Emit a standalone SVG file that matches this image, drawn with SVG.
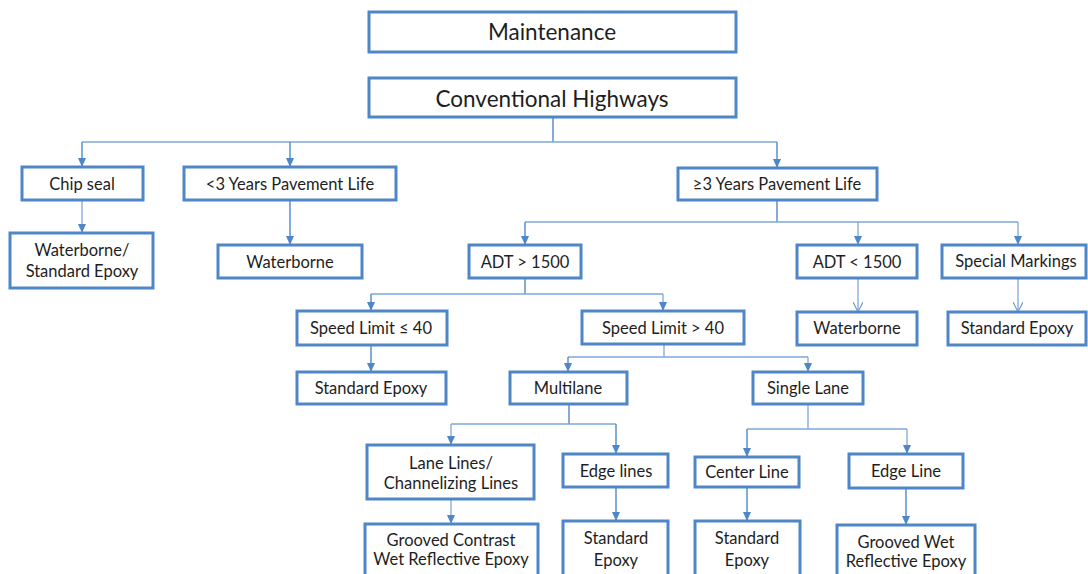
<svg xmlns="http://www.w3.org/2000/svg" width="1088" height="574" viewBox="0 0 1088 574">
<style>
.box{fill:#fff;stroke:#4f86c8;stroke-width:3}
.t{font-family:"Lato","Liberation Sans",sans-serif;fill:#1e1e1e;text-anchor:middle;dominant-baseline:central}
.big{font-size:22.5px}
.n{font-size:16.5px}
.c{fill:none;stroke:#5b8fcf;stroke-width:1.5}
.cl{fill:none;stroke:#7ea7d8;stroke-width:1.3}
</style>
<defs>
<marker id="a" markerWidth="10" markerHeight="8" refX="9" refY="4" orient="auto" markerUnits="userSpaceOnUse">
<path d="M0,0 L9,4 L0,8 z" fill="#4f86c8"/>
</marker>
<marker id="o" markerWidth="12" markerHeight="10" refX="10" refY="5" orient="auto" markerUnits="userSpaceOnUse">
<path d="M0,0 L10,5 L0,10" fill="none" stroke="#6d9ad2" stroke-width="1.2"/>
</marker>
</defs>
<rect width="1088" height="574" fill="#fff"/>
<g id="connectors">
<path class="c" d="M553,117 V142"/>
<path class="cl" d="M82,142 H777"/>
<path class="c" d="M82,142 V167" marker-end="url(#a)"/>
<path class="c" d="M290,142 V167" marker-end="url(#a)"/>
<path class="c" d="M777,142 V168" marker-end="url(#a)"/>
<path class="cl" d="M82,200 V233" marker-end="url(#a)"/>
<path class="c" d="M290,200 V245" marker-end="url(#a)"/>
<path class="c" d="M777,200 V222"/>
<path class="cl" d="M525,222 H1018"/>
<path class="c" d="M525,222 V245" marker-end="url(#a)"/>
<path class="cl" d="M858,222 V245" marker-end="url(#a)"/>
<path class="cl" d="M1018,222 V245" marker-end="url(#a)"/>
<path class="cl" d="M858,278 V312" marker-end="url(#o)"/>
<path class="cl" d="M1018,278 V312" marker-end="url(#o)"/>
<path class="c" d="M525,278 V294"/>
<path class="cl" d="M371,294 H663"/>
<path class="c" d="M371,294 V311" marker-end="url(#a)"/>
<path class="cl" d="M663,294 V311" marker-end="url(#a)"/>
<path class="c" d="M371,345 V372" marker-end="url(#a)"/>
<path class="cl" d="M664,344 V357"/>
<path class="cl" d="M568,357 H808"/>
<path class="c" d="M568,357 V372" marker-end="url(#a)"/>
<path class="cl" d="M808,357 V372" marker-end="url(#a)"/>
<path class="c" d="M569,404 V424"/>
<path class="cl" d="M451,424 H616"/>
<path class="cl" d="M451,424 V445" marker-end="url(#a)"/>
<path class="c" d="M616,424 V454" marker-end="url(#a)"/>
<path class="cl" d="M808,404 V429"/>
<path class="cl" d="M747,429 H907"/>
<path class="c" d="M747,429 V457" marker-end="url(#a)"/>
<path class="cl" d="M907,429 V454" marker-end="url(#a)"/>
<path class="cl" d="M451,499 V524" marker-end="url(#a)"/>
<path class="c" d="M616,487 V521" marker-end="url(#a)"/>
<path class="c" d="M747,487 V521" marker-end="url(#a)"/>
<path class="c" d="M906,488 V525" marker-end="url(#a)"/>
</g>
<g id="n-maintenance"><rect class="box" x="369" y="12" width="367" height="40"/><text class="t big" x="552" y="31">Maintenance</text></g>
<g id="n-conventional"><rect class="box" x="369" y="78" width="367" height="39"/><text class="t big" x="552" y="98">Conventional Highways</text></g>
<g id="n-chipseal"><rect class="box" x="22" y="167" width="121" height="33"/><text class="t n" x="82" y="184">Chip seal</text></g>
<g id="n-lt3"><rect class="box" x="184" y="167" width="212" height="33"/><text class="t n" x="290" y="184">&lt;3 Years Pavement Life</text></g>
<g id="n-ge3"><rect class="box" x="678" y="168" width="199" height="32"/><text class="t n" x="777" y="184">≥3 Years Pavement Life</text></g>
<g id="n-wb-std"><rect class="box" x="10" y="233" width="143" height="55"/><text class="t n" x="82" y="250">Waterborne/</text><text class="t n" x="82" y="271">Standard Epoxy</text></g>
<g id="n-wb1"><rect class="box" x="218" y="245" width="144" height="33"/><text class="t n" x="290" y="262">Waterborne</text></g>
<g id="n-adtgt"><rect class="box" x="469" y="245" width="112" height="33"/><text class="t n" x="525" y="262">ADT &gt; 1500</text></g>
<g id="n-adtlt"><rect class="box" x="797" y="245" width="120" height="33"/><text class="t n" x="857" y="262">ADT &lt; 1500</text></g>
<g id="n-special"><rect class="box" x="942" y="245" width="144" height="33"/><text class="t n" x="1016" y="261">Special Markings</text></g>
<g id="n-wb2"><rect class="box" x="797" y="312" width="120" height="33"/><text class="t n" x="857" y="328">Waterborne</text></g>
<g id="n-std-r"><rect class="box" x="948" y="312" width="138" height="33"/><text class="t n" x="1017" y="328">Standard Epoxy</text></g>
<g id="n-sl40le"><rect class="box" x="297" y="311" width="150" height="34"/><text class="t n" x="371" y="328">Speed Limit ≤ 40</text></g>
<g id="n-sl40gt"><rect class="box" x="582" y="311" width="162" height="33"/><text class="t n" x="663" y="328">Speed Limit &gt; 40</text></g>
<g id="n-std-ml"><rect class="box" x="297" y="372" width="149" height="32"/><text class="t n" x="371" y="388">Standard Epoxy</text></g>
<g id="n-multilane"><rect class="box" x="510" y="372" width="117" height="32"/><text class="t n" x="568" y="388">Multilane</text></g>
<g id="n-single"><rect class="box" x="753" y="372" width="110" height="32"/><text class="t n" x="808" y="388">Single Lane</text></g>
<g id="n-lanelines"><rect class="box" x="367" y="445" width="167" height="54"/><text class="t n" x="451" y="463">Lane Lines/</text><text class="t n" x="451" y="483">Channelizing Lines</text></g>
<g id="n-edgelines"><rect class="box" x="563" y="454" width="105" height="33"/><text class="t n" x="616" y="471">Edge lines</text></g>
<g id="n-center"><rect class="box" x="695" y="457" width="104" height="30"/><text class="t n" x="747" y="472">Center Line</text></g>
<g id="n-edgeline"><rect class="box" x="849" y="454" width="114" height="34"/><text class="t n" x="906" y="471">Edge Line</text></g>
<g id="n-grooved-contrast"><rect class="box" x="365" y="524" width="173" height="60"/><text class="t n" x="451" y="540">Grooved Contrast</text><text class="t n" x="451" y="559">Wet Reflective Epoxy</text></g>
<g id="n-std-b1"><rect class="box" x="563" y="521" width="105" height="63"/><text class="t n" x="616" y="538">Standard</text><text class="t n" x="616" y="560">Epoxy</text></g>
<g id="n-std-b2"><rect class="box" x="695" y="521" width="105" height="63"/><text class="t n" x="747" y="538">Standard</text><text class="t n" x="747" y="560">Epoxy</text></g>
<g id="n-grooved-wet"><rect class="box" x="837" y="525" width="138" height="60"/><text class="t n" x="906" y="542">Grooved Wet</text><text class="t n" x="906" y="561">Reflective Epoxy</text></g>
</svg>
